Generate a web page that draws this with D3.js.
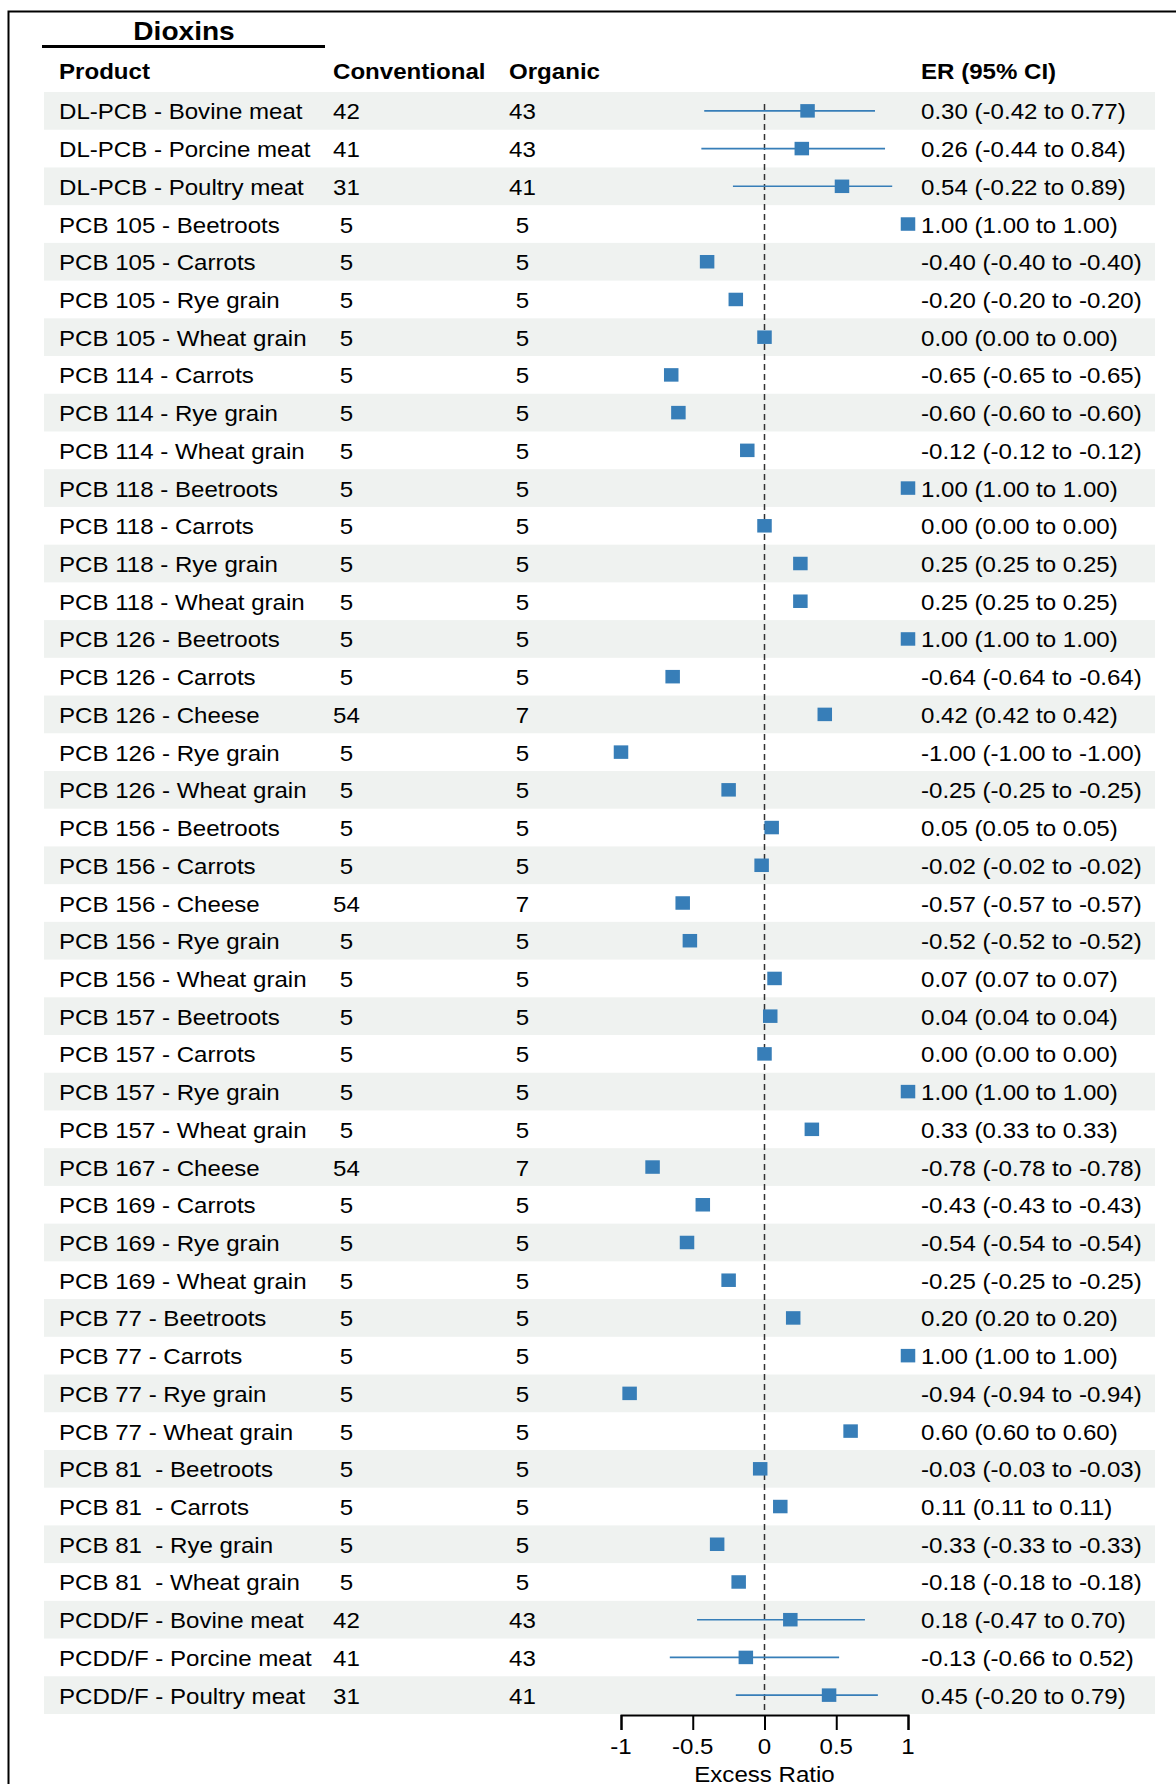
<!DOCTYPE html>
<html>
<head>
<meta charset="utf-8">
<script src="https://cdn.jsdelivr.net/npm/d3@7"></script>
<style>
  html, body { margin: 0; padding: 0; background: #fff; }
  svg text { font-family: "Liberation Sans", Arial, Helvetica, sans-serif; white-space: pre; }
</style>
</head>
<body>
<svg id="chart" width="1176" height="1784"></svg>
<script>
const title = "Dioxins";
const headers = ["Product", "Conventional", "Organic", "ER (95% CI)"];
const products = [
  "DL-PCB - Bovine meat", "DL-PCB - Porcine meat", "DL-PCB - Poultry meat",
  "PCB 105 - Beetroots", "PCB 105 - Carrots", "PCB 105 - Rye grain", "PCB 105 - Wheat grain",
  "PCB 114 - Carrots", "PCB 114 - Rye grain", "PCB 114 - Wheat grain",
  "PCB 118 - Beetroots", "PCB 118 - Carrots", "PCB 118 - Rye grain", "PCB 118 - Wheat grain",
  "PCB 126 - Beetroots", "PCB 126 - Carrots", "PCB 126 - Cheese", "PCB 126 - Rye grain", "PCB 126 - Wheat grain",
  "PCB 156 - Beetroots", "PCB 156 - Carrots", "PCB 156 - Cheese", "PCB 156 - Rye grain", "PCB 156 - Wheat grain",
  "PCB 157 - Beetroots", "PCB 157 - Carrots", "PCB 157 - Rye grain", "PCB 157 - Wheat grain",
  "PCB 167 - Cheese",
  "PCB 169 - Carrots", "PCB 169 - Rye grain", "PCB 169 - Wheat grain",
  "PCB 77 - Beetroots", "PCB 77 - Carrots", "PCB 77 - Rye grain", "PCB 77 - Wheat grain",
  "PCB 81  - Beetroots", "PCB 81  - Carrots", "PCB 81  - Rye grain", "PCB 81  - Wheat grain",
  "PCDD/F - Bovine meat", "PCDD/F - Porcine meat", "PCDD/F - Poultry meat"
];
const conventional = [42, 41, 31, 5, 5, 5, 5, 5, 5, 5, 5, 5, 5, 5, 5, 5, 54, 5, 5, 5, 5, 54, 5, 5, 5, 5, 5, 5, 54, 5, 5, 5, 5, 5, 5, 5, 5, 5, 5, 5, 42, 41, 31];
const organic = [43, 43, 41, 5, 5, 5, 5, 5, 5, 5, 5, 5, 5, 5, 5, 5, 7, 5, 5, 5, 5, 7, 5, 5, 5, 5, 5, 5, 7, 5, 5, 5, 5, 5, 5, 5, 5, 5, 5, 5, 43, 43, 41];
const er = [0.30, 0.26, 0.54, 1.00, -0.40, -0.20, 0.00, -0.65, -0.60, -0.12, 1.00, 0.00, 0.25, 0.25, 1.00, -0.64, 0.42, -1.00, -0.25, 0.05, -0.02, -0.57, -0.52, 0.07, 0.04, 0.00, 1.00, 0.33, -0.78, -0.43, -0.54, -0.25, 0.20, 1.00, -0.94, 0.60, -0.03, 0.11, -0.33, -0.18, 0.18, -0.13, 0.45];
const lower = [-0.42, -0.44, -0.22, 1.00, -0.40, -0.20, 0.00, -0.65, -0.60, -0.12, 1.00, 0.00, 0.25, 0.25, 1.00, -0.64, 0.42, -1.00, -0.25, 0.05, -0.02, -0.57, -0.52, 0.07, 0.04, 0.00, 1.00, 0.33, -0.78, -0.43, -0.54, -0.25, 0.20, 1.00, -0.94, 0.60, -0.03, 0.11, -0.33, -0.18, -0.47, -0.66, -0.20];
const upper = [0.77, 0.84, 0.89, 1.00, -0.40, -0.20, 0.00, -0.65, -0.60, -0.12, 1.00, 0.00, 0.25, 0.25, 1.00, -0.64, 0.42, -1.00, -0.25, 0.05, -0.02, -0.57, -0.52, 0.07, 0.04, 0.00, 1.00, 0.33, -0.78, -0.43, -0.54, -0.25, 0.20, 1.00, -0.94, 0.60, -0.03, 0.11, -0.33, -0.18, 0.70, 0.52, 0.79];
const xTicks = [-1, -0.5, 0, 0.5, 1];
const xLabel = "Excess Ratio";

const rows = products.map((p, i) => ({
  i, product: p, conv: conventional[i], org: organic[i],
  er: er[i], lo: lower[i], hi: upper[i]
}));

const svg = d3.select("#chart");
const SX = 1.07;         // horizontal text stretch seen in the reference
const FS = 22.5;
const blue = "#377eb8";

// frame
svg.append("rect")
  .attr("x", 8.5).attr("y", 11.5)
  .attr("width", 1400).attr("height", 2000)
  .attr("fill", "none").attr("stroke", "#000").attr("stroke-width", 2);

const y = d3.scaleBand().domain(d3.range(rows.length)).range([92, 1714]).padding(0);
const x = d3.scaleLinear().domain([-1, 1]).range([621, 908]);

const cols = { product: 59, conv: 333, org: 509, er: 921 };

function txt(g, xpos, ypos, s, opts = {}) {
  return g.append("text")
    .attr("transform", `translate(${xpos},${ypos}) scale(${opts.sx || SX},1)`)
    .attr("text-anchor", opts.anchor || "start")
    .attr("font-size", opts.size || FS)
    .attr("font-weight", opts.bold ? "bold" : "normal")
    .attr("fill", "#000")
    .text(s);
}

// bands
svg.append("g").selectAll("rect")
  .data(rows.filter(d => d.i % 2 === 0))
  .join("rect")
  .attr("x", 44).attr("width", 1155 - 44)
  .attr("y", d => y(d.i)).attr("height", y.bandwidth())
  .attr("fill", "#eff2f0");

// title
txt(svg, 184, 39.5, title, { bold: true, size: 26, sx: 1.08, anchor: "middle" });
svg.append("line")
  .attr("x1", 42).attr("x2", 325).attr("y1", 46.5).attr("y2", 46.5)
  .attr("stroke", "#000").attr("stroke-width", 3);

// headers
const hx = [cols.product, cols.conv, cols.org, cols.er];
headers.forEach((h, k) => txt(svg, hx[k], 78.5, h, { bold: true }));

const fmt = v => (Math.abs(v) < 1e-9 ? 0 : v).toFixed(2);
const pad = v => (v < 10 ? " " : "") + v;

const tg = svg.append("g");
rows.forEach(d => {
  const by = y(d.i) + y.bandwidth() / 2 + 8.5;
  txt(tg, cols.product, by, d.product);
  txt(tg, cols.conv, by, pad(d.conv));
  txt(tg, cols.org, by, pad(d.org));
  txt(tg, cols.er, by, `${fmt(d.er)} (${fmt(d.lo)} to ${fmt(d.hi)})`);
});

// reference line
svg.append("line")
  .attr("x1", x(0)).attr("x2", x(0))
  .attr("y1", 104).attr("y2", 1714)
  .attr("stroke", "#333").attr("stroke-width", 1.5)
  .attr("stroke-dasharray", "6,4");

// CIs
const mg = svg.append("g");
mg.selectAll("line.ci")
  .data(rows.filter(d => d.hi > d.lo))
  .join("line")
  .attr("class", "ci")
  .attr("x1", d => x(d.lo)).attr("x2", d => x(d.hi))
  .attr("y1", d => y(d.i) + y.bandwidth() / 2)
  .attr("y2", d => y(d.i) + y.bandwidth() / 2)
  .attr("stroke", blue).attr("stroke-width", 1.6);

const sw = 14.5, sh = 13.5;
mg.selectAll("rect.pt")
  .data(rows)
  .join("rect")
  .attr("class", "pt")
  .attr("x", d => x(d.er) - sw / 2)
  .attr("y", d => y(d.i) + y.bandwidth() / 2 - sh / 2)
  .attr("width", sw).attr("height", sh)
  .attr("fill", blue);

// axis
const axis = d3.axisBottom(x).tickValues(xTicks).tickSize(15).tickPadding(6)
  .tickFormat(d => String(d));
const ag = svg.append("g").attr("transform", "translate(0,1715)").call(axis);
ag.select(".domain").attr("stroke", "#000").attr("stroke-width", 2);
ag.selectAll(".tick line").attr("stroke", "#000").attr("stroke-width", 2);
ag.selectAll(".tick text").remove();
xTicks.forEach(t => txt(svg, x(t), 1754, String(t), { anchor: "middle" }));

txt(svg, x(0), 1782, xLabel, { anchor: "middle" });
</script>
</body>
</html>
